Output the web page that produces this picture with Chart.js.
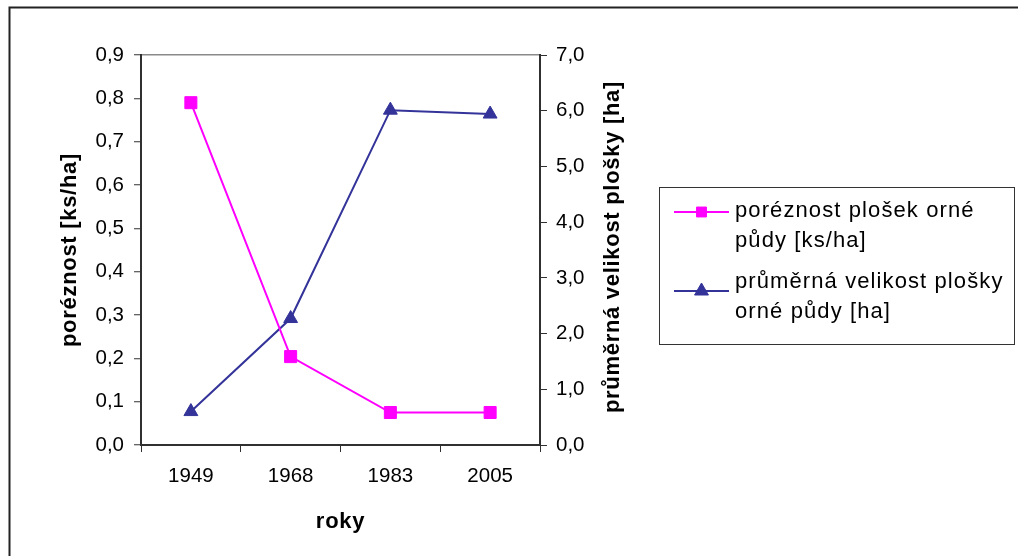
<!DOCTYPE html>
<html><head><meta charset="utf-8">
<script src="https://cdn.jsdelivr.net/npm/chart.js@4.4.1/dist/chart.umd.min.js"></script>
<style>html,body{margin:0;padding:0;background:#fff;}#wrap{width:1018px;height:556px;position:relative;}</style>
</head><body><div id="wrap"><canvas id="c"></canvas></div>
<script>
const years = ['1949', '1968', '1983', '2005'];
const porosity = [0.79, 0.204, 0.075, 0.075];
const meanSize = [0.60, 2.27, 6.01, 5.94];
const seriesLabels = ['poréznost plošek orné půdy [ks/ha]', 'průměrná velikost plošky orné půdy [ha]'];
const legendLines = [['poréznost plošek orné', 'půdy [ks/ha]'], ['průměrná velikost plošky', 'orné půdy [ha]']];
const leftTitle = 'poréznost [ks/ha]';
const rightTitle = 'průměrná velikost plošky [ha]';
const xTitle = 'roky';
const leftRange = [0, 0.9, 0.1];
const rightRange = [0, 7, 1];

const FONT = "'Liberation Sans', Arial, sans-serif";
const fmt = v => Number(v).toFixed(1).replace('.', ',');
const AXIS = '#303030';

const decor = {
  id: 'decor',
  beforeDraw(chart) {
    const ctx = chart.ctx;
    ctx.save();
    ctx.fillStyle = '#fff';
    ctx.fillRect(0, 0, chart.width, chart.height);
    ctx.strokeStyle = '#222';
    ctx.lineWidth = 2;
    ctx.strokeRect(9.5, 7.5, chart.width + 20, chart.height + 20);
    ctx.restore();
  },
  afterDraw(chart) {
    const ctx = chart.ctx;
    const ca = chart.chartArea;
    ctx.save();
    ctx.fillStyle = '#000';
    // axis titles
    ctx.font = 'bold 22px ' + FONT;
    ctx.letterSpacing = '0.7px';
    ctx.textAlign = 'center';
    ctx.textBaseline = 'alphabetic';
    ctx.fillText(xTitle, (ca.left + ca.right) / 2, 528);
    ctx.save();
    ctx.translate(76, (ca.top + ca.bottom) / 2);
    ctx.rotate(-Math.PI / 2);
    ctx.fillText(leftTitle, 0, 0);
    ctx.restore();
    ctx.save();
    ctx.translate(619, (ca.top + ca.bottom) / 2 - 3);
    ctx.rotate(-Math.PI / 2);
    ctx.fillText(rightTitle, 0, 0);
    ctx.restore();

    // legend box
    ctx.strokeStyle = '#333';
    ctx.lineWidth = 1;
    ctx.strokeRect(659.5, 187.5, 355, 157);
    const sampleY = [212, 291];
    const textY = [[217, 247], [288, 318]];
    ctx.font = '22px ' + FONT;
    ctx.letterSpacing = '1.1px';
    ctx.textAlign = 'left';
    chart.data.datasets.forEach((ds, i) => {
      ctx.strokeStyle = ds.borderColor;
      ctx.lineWidth = 2;
      ctx.beginPath();
      ctx.moveTo(674, sampleY[i]);
      ctx.lineTo(729, sampleY[i]);
      ctx.stroke();
      ctx.fillStyle = ds.pointBackgroundColor;
      ctx.strokeStyle = ds.pointBorderColor;
      ctx.lineWidth = 1;
      Chart.helpers.drawPoint(ctx, {pointStyle: ds.pointStyle, radius: i === 0 ? 7 : 8, borderWidth: 1, rotation: 0}, 701.5, sampleY[i]);
      ctx.fillStyle = '#000';
      legendLines[i].forEach((t, j) => ctx.fillText(t, 735, textY[i][j]));
    });
    ctx.restore();
  }
};

const tickFont = {family: FONT, size: 20.5};

new Chart(document.getElementById('c'), {
  type: 'line',
  data: {
    labels: years,
    datasets: [
      {
        label: seriesLabels[0], data: porosity, yAxisID: 'y',
        borderColor: '#FF00FF', backgroundColor: '#FF00FF', borderWidth: 2,
        pointStyle: 'rect', pointRadius: 8.5, pointHoverRadius: 8.5,
        pointBackgroundColor: '#FF00FF', pointBorderColor: '#FF00FF', pointBorderWidth: 1,
        tension: 0, fill: false
      },
      {
        label: seriesLabels[1], data: meanSize, yAxisID: 'y1',
        borderColor: '#333399', backgroundColor: '#333399', borderWidth: 2,
        pointStyle: 'triangle', pointRadius: 8, pointHoverRadius: 8,
        pointBackgroundColor: '#333399', pointBorderColor: '#333399', pointBorderWidth: 1,
        tension: 0, fill: false
      }
    ]
  },
  options: {
    responsive: true,
    maintainAspectRatio: false,
    animation: false,
    layout: {padding: {top: 55, left: 0, right: 0, bottom: 0}},
    plugins: {legend: {display: false}, tooltip: {enabled: false}, title: {display: false}},
    scales: {
      x: {
        type: 'category', offset: true,
        grid: {display: true, drawOnChartArea: false, offset: true, tickLength: 7, tickColor: AXIS, tickWidth: 1},
        border: {display: true, color: AXIS, width: 2},
        ticks: {font: tickFont, color: '#000', padding: 12, maxRotation: 0, autoSkip: false},
        afterFit(s) { s.height = 111; }
      },
      y: {
        position: 'left', min: leftRange[0], max: leftRange[1],
        grid: {
          drawOnChartArea: true, tickLength: 7, tickColor: AXIS, tickWidth: 1,
          color: c => (c.tick && Math.abs(c.tick.value - leftRange[1]) < 1e-9) ? '#8a8a8a' : 'rgba(0,0,0,0)',
          lineWidth: 1.5
        },
        border: {display: true, color: AXIS, width: 2},
        ticks: {stepSize: leftRange[2], font: tickFont, color: '#000', padding: 10, callback: fmt},
        afterFit(s) { s.width = 141; }
      },
      y1: {
        position: 'right', min: rightRange[0], max: rightRange[1],
        grid: {drawOnChartArea: false, tickLength: 7, tickColor: AXIS, tickWidth: 1},
        border: {display: true, color: AXIS, width: 2},
        ticks: {stepSize: rightRange[2], font: tickFont, color: '#000', padding: 9, callback: fmt},
        afterFit(s) { s.width = 478; }
      }
    }
  },
  plugins: [decor]
});
</script>
</body></html>
